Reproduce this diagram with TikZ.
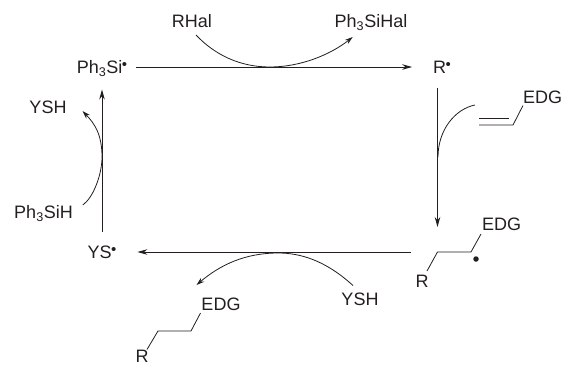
\documentclass[tikz,border=0pt]{standalone}
\usepackage{fontspec}
\setmainfont{Liberation Sans}
\usetikzlibrary{arrows.meta, positioning, calc}
\definecolor{inkgray}{RGB}{35, 31, 32}
\newcommand{\rad}{\kern-0.5pt\raisebox{4.5pt}{\fontsize{15}{15}\selectfont\textbullet}}
\newcommand{\sub}[1]{\textsubscript{#1}}
\tikzset{
  chem/.style={inner sep=0pt, outer sep=0pt, text height=13pt, text depth=0pt, text=inkgray, font=\fontsize{18}{20}\selectfont},
  mainarrow/.style={draw=inkgray, line width=0.9pt, -{Stealth[length=10pt, width=5.5pt]}},
  curlyarrow/.style={draw=inkgray, line width=0.8pt, -{Stealth[length=8pt, width=5pt]}},
  curlyline/.style={draw=inkgray, line width=0.8pt},
  bond/.style={draw=inkgray, line width=0.8pt, line join=miter}
}

\begin{document}
\begin{tikzpicture}[x=1pt, y=-1pt]
  \useasboundingbox (0,0) rectangle (563,365);

  % species on the cycle
  \node[chem] (phsi) at (102,67) {Ph\sub{3}Si\rad};
  \node[chem] (rrad) at (442,67) {R\rad};
  \node[chem] (ysrad) at (102,252) {YS\rad};
  \coordinate (cha) at (437.5,252);
  \coordinate (chb) at (471,252);

  % reagents and products
  \node[chem] (rhal) at (192,21) {RHal};
  \node[chem] (phsihal) at (371,21) {Ph\sub{3}SiHal};
  \node[chem] (yshtop) at (48,107) {YSH};
  \node[chem] (phsih) at (43.5,212) {Ph\sub{3}SiH};
  \node[chem] (yshlow) at (360,299) {YSH};
  \node[chem] (edgvinyl) at (542.5,97) {EDG};
  \node[chem] (edgrad) at (501.5,224) {EDG};
  \node[chem] (rrad2) at (422,281) {R};
  \node[chem] (edgprod) at (221,304) {EDG};
  \node[chem] (rprod) at (142,356) {R};
  \node[circle, fill=inkgray, inner sep=0pt, minimum size=5.5pt] (raddot) at (476,259) {};

  % cycle arrows
  \draw[mainarrow, shorten <=9pt, shorten >=21pt] (phsi) -- (rrad);
  \draw[mainarrow, shorten <=14pt, shorten >=25pt] (rrad.south -| cha) -- (cha);
  \draw[mainarrow, shorten <=27pt, shorten >=21pt] (cha) -- (ysrad);
  \draw[mainarrow, shorten <=14pt, shorten >=16pt] (ysrad) -- (phsi);

  % curly arrows
  \coordinate (topmid) at (270,67);
  \coordinate (leftmid) at (102,157);
  \coordinate (rightmid) at (438,157);
  \coordinate (lowmid) at (278,253);
  \draw[curlyline] ([shift={(4,7.5)}]rhal.south) .. controls (215,55) and (240,67) .. (topmid);
  \draw[curlyarrow] (topmid) .. controls (300,67) and (330,55) .. ([shift={(18,9.5)}]phsihal.south west);
  \draw[curlyline] ([shift={(10,-7)}]phsih.east) .. controls (93,198) and (102,175) .. (leftmid);
  \draw[curlyarrow] (leftmid) .. controls (102,135) and (95,124) .. ([shift={(16,4)}]yshtop.east);
  \draw[curlyline] ([shift={(-4,-20)}]$(edgvinyl.west)+(-44,28)$) .. controls (455,109) and (438,130) .. (rightmid);
  \draw[curlyline] ([shift={(-7,-7)}]yshlow.north) .. controls (325,260) and (300,253) .. (lowmid);
  \draw[curlyarrow] (lowmid) .. controls (245,253) and (220,265) .. ([shift={(-5,-12.5)}]edgprod.north west);

  % alkene and alkyl chains
  \coordinate (vinyla) at (479,125);
  \coordinate (vinylb) at (513,125);
  \coordinate (vinylc) at (479,118);
  \coordinate (vinyld) at (509,118);
  \draw[bond] (vinyla) -- (vinylb) -- ([shift={(0,2)}]edgvinyl.south west);
  \draw[bond] (vinylc) -- (vinyld);
  \draw[bond] ([shift={(5,-3.5)}]rrad2.north) -- (cha) -- (chb) -- ([shift={(-1,3.5)}]edgrad.south west);
  \coordinate (prodb) at (191,331);
  \coordinate (proda) at (158,331);
  \draw[bond] ([shift={(-1,2.5)}]edgprod.south west) -- (prodb) -- (proda) -- ([shift={(5,0)}]rprod.north);
\end{tikzpicture}
\end{document}
